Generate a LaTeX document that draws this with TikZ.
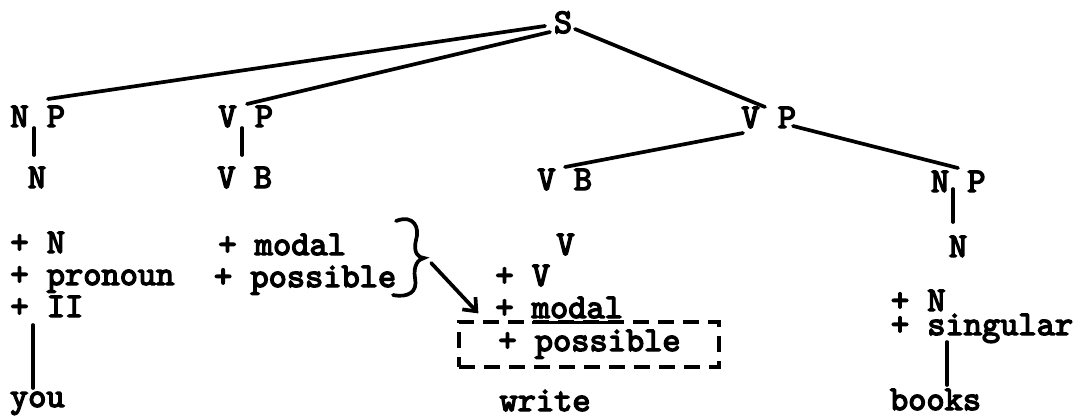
\documentclass[tikz,border=0pt]{standalone}
\usepackage{fontspec}
\newfontfamily\typewriter{lmmono10-regular}[Extension=.otf, FakeBold=4]
\usetikzlibrary{calc,arrows.meta}
\tikzset{
  lbl/.style={inner sep=0pt, outer sep=0pt, font=\fontsize{34.7}{40}\selectfont\typewriter, anchor=base west},
  lblc/.style={lbl, anchor=base},
  tree/.style={line width=3.7pt, line cap=round},
  dashbox/.style={draw, line width=3.2pt, dash pattern=on 16pt off 9pt, minimum width=260pt, minimum height=45pt, inner sep=0pt},
}
\begin{document}
\begin{tikzpicture}[x=1pt,y=-1pt]
\useasboundingbox (0,0) rectangle (1083,418);
% labels
\node[lblc] (S) at (563,33) {S};
\node[lbl] (NP1) at (10.4,127) {N P};
\node[lblc] (N1) at (37,188) {N};
\node[lbl] (f1a) at (10.4,253) {+ N};
\node[lbl] (f1b) at (10.4,285) {+ pronoun};
\node[lbl] (f1c) at (10.4,317) {+ II};
\node[lbl] (you) at (10,407) {you};
\node[lbl] (VP1) at (218.4,127) {V P};
\node[lbl] (VB1) at (217.4,188) {V B};
\node[lbl] (f2a) at (218.4,255) {+ modal};
\node[lbl] (f2b) at (214,287) {+ possible};
\node[lbl] (VP2) at (741.4,128) {V P};
\node[lbl] (VB2) at (537.4,190) {V B};
\node[lblc] (V2) at (565.5,255) {V};
\node[lbl] (f3a) at (495.4,286) {+ V};
\node[lbl] (f3b) at (495.4,318) {+ modal};
\node[lbl] (f3c) at (498.4,351) {+ possible};
\node[lbl] (write) at (499.5,411) {write};
\node[lbl] (NP2) at (930.9,192) {N P};
\node[lblc] (N2) at (958,257) {N};
\node[lbl] (f4a) at (890.9,311) {+ N};
\node[lbl] (f4b) at (890.9,335) {+ singular};
\node[lbl] (books) at (890,410) {books};
\node[dashbox] (box) at (589,344.5) {};
% tree connectors
\draw[tree] ($(S.base)+(-18,-7)$) -- ($(NP1.base west)+(37.6,-28)$);
\draw[tree] ($(S.base)+(-13,-1)$) -- ($(VP1.base west)+(28.6,-23)$);
\draw[tree] ($(S.base)+(12,-4)$) -- ($(VP2.base west)+(23.6,-21)$);
\draw[tree] ($(VP2.base west)+(1.6,5)$) -- ($(VB2.base west)+(27.6,-23)$);
\draw[tree] ($(VP2.base west)+(51.6,-2)$) -- ($(NP2.base west)+(27.1,-24)$);
\draw[tree] ($(NP1.base west)+(23.6,1)$) -- ($(N1.base)+(-3,-33)$);
\draw[tree] ($(VP1.base west)+(23.6,1)$) -- ($(VB1.base west)+(24.6,-33)$);
\draw[tree] ($(NP2.base west)+(22.1,-3)$) -- ($(N2.base)+(-5,-35)$);
\draw[tree] ($(f1c.base west)+(22.6,8)$) -- ($(you.base west)+(23,-19)$);
\draw[tree] ($(f4b.base west)+(56.1,7)$) -- ($(books.base west)+(57,-25)$);
% underline of modal
\draw[line width=3pt] ($(f3b.base west)+(37,4)$) -- ($(f3b.base east)+(0,4)$);
% brace
\draw[tree] (396,221) .. controls (414,214) and (420,228) .. (416,240)
  .. controls (413,252) and (418,258) .. (424,258)
  .. controls (418,259) and (413,266) .. (415,278)
  .. controls (418,292) and (408,298) .. (393,295);
% arrow
\draw[tree, -{Straight Barb[length=11pt,width=18pt]}] ($(f2b.base east)+(35,-24)$) -- ($(box.north west)+(21,-7)$);
\end{tikzpicture}
\end{document}
